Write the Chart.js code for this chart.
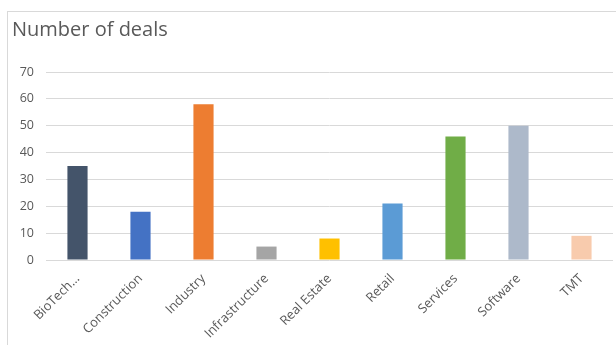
<!DOCTYPE html>
<html>
<head>
<meta charset="utf-8">
<script src="https://cdn.jsdelivr.net/npm/chart.js@4/dist/chart.umd.min.js"></script>
<style>
  html, body { margin: 0; padding: 0; background: #fff; }
  #wrap { position: relative; width: 616px; height: 345px; }
  #frame { position: absolute; left: 7px; top: 11px; right: -2px; bottom: -2px; border-top: 1px solid #d9d9d9; border-left: 1px solid #d9d9d9; }
  canvas { position: absolute; left: 0; top: 0; }
</style>
</head>
<body>
<div id="wrap">
  <div id="frame"></div>
  <canvas id="c" width="616" height="345"></canvas>
</div>
<script>
const categories = ["BioTech…", "Construction", "Industry", "Infrastructure", "Real Estate", "Retail", "Services", "Software", "TMT"];
const deals = [35, 18, 58, 5, 8, 21, 46, 50, 9];
const barColors = ["#44546A", "#4472C4", "#ED7D31", "#A5A5A5", "#FFC000", "#5B9BD5", "#70AD47", "#ADB9CA", "#F8CBAD"];
const yTicks = [0, 10, 20, 30, 40, 50, 60, 70];
const titleText = "Number of deals";

const FONT = "'Open Sans', 'Noto Sans', sans-serif";

new Chart(document.getElementById("c"), {
  type: "bar",
  data: {
    labels: categories,
    datasets: [{
      data: deals,
      backgroundColor: barColors,
      borderWidth: 0,
      categoryPercentage: 1,
      barPercentage: 0.32
    }]
  },
  options: {
    responsive: false,
    animation: false,
    devicePixelRatio: 1,
    layout: { padding: { left: 12, right: 3, top: 0, bottom: 0 } },
    plugins: {
      legend: { display: false },
      tooltip: { enabled: false },
      title: {
        display: true,
        text: titleText,
        align: "start",
        color: "#595959",
        font: { family: FONT, size: 20, weight: "normal", lineHeight: 1.2 },
        padding: { top: 18, bottom: 30 }
      }
    },
    scales: {
      y: {
        min: 0,
        max: 70,
        afterBuildTicks: (axis) => { axis.ticks = yTicks.map(v => ({ value: v })); },
        afterFit: (axis) => { axis.width = 34; },
        grid: { color: "#d9d9d9", lineWidth: 1, drawTicks: false },
        border: { display: false },
        ticks: { color: "#595959", font: { family: FONT, size: 12.5 }, padding: 12 }
      },
      x: {
        afterFit: (axis) => { axis.height = 85; },
        grid: { display: false },
        border: { display: false },
        ticks: {
          color: "#595959",
          font: { family: FONT, size: 13 },
          minRotation: 45,
          maxRotation: 45,
          padding: 3,
          autoSkip: false
        }
      }
    }
  }
});
</script>
</body>
</html>
